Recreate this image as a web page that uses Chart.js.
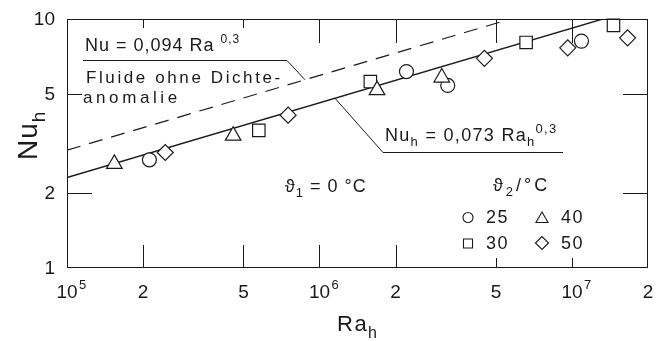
<!DOCTYPE html>
<html>
<head>
<meta charset="utf-8">
<script src="https://cdn.jsdelivr.net/npm/chart.js@4.4.1/dist/chart.umd.min.js"></script>
<style>
  html, body { margin: 0; padding: 0; background: #fff; }
  canvas { display: block; }
</style>
</head>
<body>
<canvas id="chart" width="664" height="341"></canvas>
<script>
// Measured heat transfer Nu_h versus Rayleigh number Ra_h (theta_1 = 0 °C)
// one series per warm-side temperature theta_2

const raTheta25 = [2.12e5, 2.21e6, 3.22e6, 1.09e7];
const nuTheta25 = [2.72, 6.15, 5.41, 8.15];

const raTheta30 = [5.75e5, 1.59e6, 6.58e6, 1.46e7];
const nuTheta30 = [3.57, 5.61, 8.05, 9.43];

const raTheta40 = [1.54e5, 4.55e5, 1.69e6, 3.05e6];
const nuTheta40 = [2.62, 3.40, 5.18, 5.82];

const raTheta50 = [2.45e5, 7.51e5, 4.50e6, 9.62e6, 1.66e7];
const nuTheta50 = [2.91, 4.11, 6.95, 7.66, 8.40];

const seriesLabels = ['25', '30', '40', '50'];

// correlations Nu = C * Ra^n, as written in the annotations
const fitExponent = 0.3;
const fitCoeffMeasured = 0.073;   // Nu_h = 0,073 Ra_h^0,3
const fitCoeffNormal = 0.094;     // Nu = 0,094 Ra^0,3 (fluids without density anomaly)
const fitRaRange = [1e5, 2e7];

const xTickValues = [1e5, 2e5, 5e5, 1e6, 2e6, 5e6, 1e7, 2e7];
const xTickMantissa = ['10', '2', '5', '10', '2', '5', '10', '2'];
const xTickExponent = ['5', '', '', '6', '', '', '7', ''];
const yTickValues = [1, 2, 5, 10];
const yTickLabels = ['1', '2', '5', '10'];

const toPoints = (xs, ys) => xs.map((x, i) => ({ x, y: ys[i] }));
const fitPoints = c => fitRaRange.map(ra => ({ x: ra, y: c * Math.pow(ra, fitExponent) }));

const INK = '#1a1a1a';
const FAMILY = '"Liberation Sans", "DejaVu Sans", sans-serif';

// inner tick lengths along each side of the frame
const tickLen = {
  top:    { 2e5: 9, 5e5: 9, 1e6: 24, 2e6: 24, 5e6: 24, 1e7: 24 },
  bottom: { 2e5: 23, 5e5: 23, 1e6: 23, 2e6: 23, 5e6: 10, 1e7: 10 },
  left:   { 2: 25, 5: 15 },
  right:  { 2: 25, 5: 25 }
};

function setFont(ctx, size) { ctx.font = size + 'px ' + FAMILY; }

// text runs with sub/superscripts: parts = [[text, 'n'|'sub'|'sup'], ...]
function drawRich(ctx, parts, x, y, size, opt) {
  opt = opt || {};
  const small = opt.small || Math.round(size * 0.66);
  ctx.letterSpacing = (opt.ls || 0) + 'px';
  let w = 0;
  const runs = [];
  for (const [t, k] of parts) {
    const s = k === 'n' ? size : small;
    setFont(ctx, s);
    const dy = k === 'sub' ? size * 0.30 : k === 'sup' ? -size * 0.45 : 0;
    runs.push({ t, s, dy, x: w });
    w += ctx.measureText(t).width;
  }
  const x0 = opt.align === 'center' ? x - w / 2 : opt.align === 'right' ? x - w : x;
  ctx.textAlign = 'left';
  ctx.textBaseline = 'alphabetic';
  for (const r of runs) {
    setFont(ctx, r.s);
    ctx.fillText(r.t, x0 + r.x, y + r.dy);
  }
  ctx.letterSpacing = '0px';
  return w;
}

function seg(ctx, x1, y1, x2, y2) {
  ctx.beginPath();
  ctx.moveTo(x1, y1);
  ctx.lineTo(x2, y2);
  ctx.stroke();
}

const decorations = {
  id: 'decorations',
  afterDraw(chart) {
    const { ctx, chartArea: a, scales: { x, y } } = chart;
    ctx.save();
    ctx.strokeStyle = INK;
    ctx.fillStyle = INK;
    ctx.lineWidth = 1;

    // frame
    ctx.strokeRect(a.left + 0.5, a.top + 0.5, a.right - a.left - 1, a.bottom - a.top - 1);

    // inner ticks
    for (const v of xTickValues) {
      const px = Math.round(x.getPixelForValue(v)) + 0.5;
      if (tickLen.top[v]) seg(ctx, px, a.top, px, a.top + tickLen.top[v]);
      if (tickLen.bottom[v]) seg(ctx, px, a.bottom, px, a.bottom - tickLen.bottom[v]);
    }
    for (const v of yTickValues) {
      const py = Math.round(y.getPixelForValue(v)) + 0.5;
      if (tickLen.left[v]) seg(ctx, a.left, py, a.left + tickLen.left[v], py);
      if (tickLen.right[v]) seg(ctx, a.right, py, a.right - tickLen.right[v], py);
    }

    // x tick labels
    xTickValues.forEach((v, i) => {
      const px = x.getPixelForValue(v);
      setFont(ctx, 19);
      const w = ctx.measureText(xTickMantissa[i]).width;
      ctx.textAlign = 'left';
      ctx.textBaseline = 'alphabetic';
      ctx.fillText(xTickMantissa[i], px - w / 2, a.bottom + 30);
      if (xTickExponent[i]) {
        setFont(ctx, 13);
        ctx.fillText(xTickExponent[i], px + w / 2 + 1.5, a.bottom + 21);
      }
    });

    // y tick labels
    yTickValues.forEach((v, i) => {
      const py = y.getPixelForValue(v);
      setFont(ctx, 19);
      ctx.textAlign = 'right';
      ctx.textBaseline = 'middle';
      ctx.fillText(yTickLabels[i], a.left - 12, py + 1);
    });

    // axis titles
    drawRich(ctx, [['Ra', 'n'], ['h', 'sub']], 337, 331, 22, { small: 16, ls: 1.5 });
    ctx.save();
    ctx.translate(37, 160);
    ctx.rotate(-Math.PI / 2);
    drawRich(ctx, [['Nu', 'n'], ['h', 'sub']], 0, 0, 28, { small: 19, ls: 1 });
    ctx.restore();

    // annotation: correlation for fluids without density anomaly
    ctx.lineWidth = 1;
    drawRich(ctx, [['Nu = 0,094 Ra ', 'n'], ['0,3', 'sup']], 85, 51, 18, { ls: 1, small: 12 });
    const ra1 = x.getValueForPixel(305);
    const ny1 = y.getPixelForValue(fitCoeffNormal * Math.pow(ra1, fitExponent));
    ctx.beginPath();
    ctx.moveTo(83, 60.5);
    ctx.lineTo(287, 60.5);
    ctx.lineTo(305, ny1);
    ctx.stroke();
    drawRich(ctx, [['Fluide ohne Dichte-', 'n']], 86, 83, 17, { ls: 2.6 });
    drawRich(ctx, [['anomalie', 'n']], 83, 103, 17, { ls: 3.6 });

    // annotation: measured correlation
    drawRich(ctx, [['Nu', 'n'], ['h', 'sub'], [' = 0,073 Ra', 'n'], ['h', 'sub'], ['0,3', 'sup']],
      385, 141, 18, { ls: 1.3, small: 13 });
    const ra2 = x.getValueForPixel(335);
    const ny2 = y.getPixelForValue(fitCoeffMeasured * Math.pow(ra2, fitExponent));
    ctx.beginPath();
    ctx.moveTo(335, ny2);
    ctx.lineTo(383, 152.5);
    ctx.lineTo(563, 152.5);
    ctx.stroke();

    // cold-side temperature
    drawRich(ctx, [['\u03D1', 'n'], ['1', 'sub'], [' = 0 \u00B0C', 'n']], 285, 192, 18, { ls: 1, small: 13 });

    // legend: warm-side temperature
    drawRich(ctx, [['\u03D1', 'n'], ['2', 'sub'], ['/\u00B0C', 'n']], 493, 191, 18, { ls: 3, small: 13 });
    const legendItems = [
      { style: 'circle', r: 5, cx: 468, cy: 217.5, tx: 486, ty: 223, label: seriesLabels[0] },
      { style: 'triangle', r: 7, cx: 542, cy: 219, tx: 561, ty: 223, label: seriesLabels[2] },
      { style: 'rect', r: 6.4, cx: 468, cy: 243.5, tx: 486, ty: 249, label: seriesLabels[1] },
      { style: 'rectRot', r: 6.5, cx: 542, cy: 243, tx: 561, ty: 249, label: seriesLabels[3] }
    ];
    for (const it of legendItems) {
      ctx.fillStyle = '#fff';
      ctx.strokeStyle = INK;
      ctx.lineWidth = 1.1;
      Chart.helpers.drawPoint(ctx, { pointStyle: it.style, radius: it.r, rotation: 0, borderWidth: 1.1 }, it.cx, it.cy);
      ctx.fillStyle = INK;
      drawRich(ctx, [[it.label, 'n']], it.tx, it.ty, 18, { ls: 1.5 });
    }
    ctx.restore();
  }
};

const marker = (style, radius) => ({
  pointStyle: style,
  pointRadius: radius,
  pointHoverRadius: radius,
  pointBackgroundColor: '#ffffff',
  pointBorderColor: INK,
  pointBorderWidth: 1.2,
  showLine: false,
  clip: false
});

new Chart(document.getElementById('chart'), {
  type: 'scatter',
  data: {
    datasets: [
      { label: seriesLabels[2], data: toPoints(raTheta40, nuTheta40), order: 1, ...marker('triangle', 9) },
      { label: seriesLabels[3], data: toPoints(raTheta50, nuTheta50), order: 2, ...marker('rectRot', 8) },
      { label: seriesLabels[1], data: toPoints(raTheta30, nuTheta30), order: 3, ...marker('rect', 8.8) },
      { label: seriesLabels[0], data: toPoints(raTheta25, nuTheta25), order: 4, ...marker('circle', 7) },
      {
        label: 'Nu_h = 0,073 Ra_h^0,3', data: fitPoints(fitCoeffMeasured), order: 5,
        showLine: true, pointRadius: 0, borderColor: INK, borderWidth: 1.4, fill: false
      },
      {
        label: 'Nu = 0,094 Ra^0,3', data: fitPoints(fitCoeffNormal), order: 6,
        showLine: true, pointRadius: 0, borderColor: INK, borderWidth: 1.2, borderDash: [14, 9], fill: false
      }
    ]
  },
  options: {
    responsive: false,
    devicePixelRatio: 1,
    animation: false,
    events: [],
    layout: { padding: { left: 67, right: 16, top: 19, bottom: 73 } },
    scales: {
      x: { type: 'logarithmic', min: 1e5, max: 2e7, display: false },
      y: { type: 'logarithmic', min: 1, max: 10, display: false }
    },
    plugins: {
      legend: { display: false },
      tooltip: { enabled: false }
    }
  },
  plugins: [decorations]
});
</script>
</body>
</html>
